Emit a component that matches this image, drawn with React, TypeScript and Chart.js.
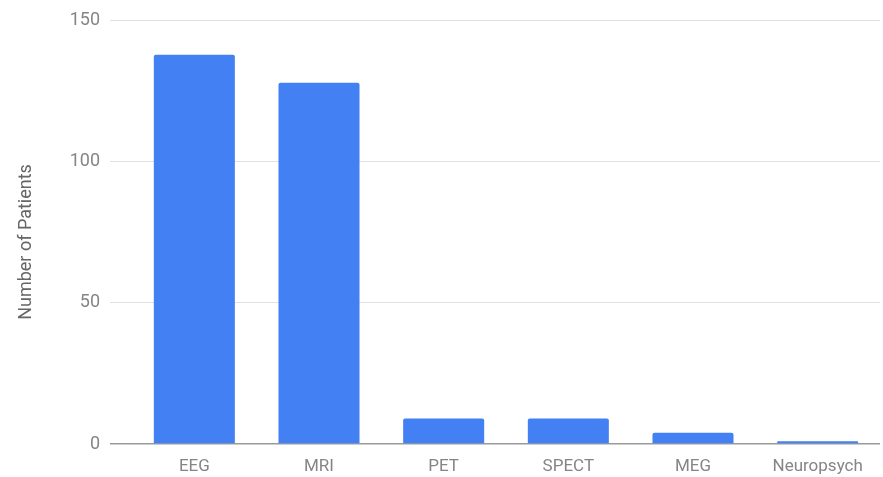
import React, { useEffect, useRef } from "react";
import { Chart, registerables } from "chart.js";

Chart.register(...registerables);

const categories = ["EEG", "MRI", "PET", "SPECT", "MEG", "Neuropsych"];
const patients = [138, 128, 9, 9, 4, 1];
const yTicks = [0, 50, 100, 150];
const yTitle = "Number of Patients";

const yTitlePlugin = {
  id: "yTitlePlugin",
  afterDraw(chart: any) {
    const ctx = chart.ctx;
    ctx.save();
    ctx.translate(26, 242);
    ctx.rotate(-Math.PI / 2);
    ctx.fillStyle = "#666666";
    ctx.font = "18px Roboto";
    ctx.textAlign = "center";
    ctx.textBaseline = "middle";
    ctx.fillText(yTitle, 0, 0);
    ctx.restore();
  },
};

export default function App() {
  const ref = useRef<HTMLCanvasElement | null>(null);

  useEffect(() => {
    if (!ref.current) return;
    const chart = new Chart(ref.current, {
      type: "bar",
      data: {
        labels: categories,
        datasets: [
          {
            data: patients,
            backgroundColor: "#4280f4",
            borderRadius: 2,
            borderSkipped: "bottom",
            categoryPercentage: 1,
            barPercentage: 0.65,
          },
        ],
      },
      plugins: [yTitlePlugin],
      options: {
        animation: false,
        responsive: false,
        maintainAspectRatio: false,
        layout: { padding: { top: 19, right: 3, bottom: 0, left: 0 } },
        plugins: { legend: { display: false }, tooltip: { enabled: false } },
        scales: {
          x: {
            grid: { display: false, drawTicks: false },
            border: { display: false },
            afterFit: (scale: any) => {
              scale.height = 33;
            },
            ticks: {
              color: "#858585",
              font: { family: "Roboto", size: 17 },
              padding: 13,
              maxRotation: 0,
            },
          },
          y: {
            min: 0,
            max: 150,
            afterBuildTicks: (scale: any) => {
              scale.ticks = yTicks.map((v) => ({ value: v }));
            },
            afterFit: (scale: any) => {
              scale.width = 132;
            },
            border: { display: false },
            grid: {
              color: (ctx: any) => (ctx.tick && ctx.tick.value === 0 ? "#9a9a9a" : "#e0e0e0"),
              lineWidth: (ctx: any) => (ctx.tick && ctx.tick.value === 0 ? 1.5 : 1),
              tickLength: 22,
              drawTicks: true,
            },
            ticks: {
              color: "#858585",
              font: { family: "Roboto", size: 18 },
              padding: 10,
            },
            title: { display: false },
          },
        },
      },
    });
    return () => chart.destroy();
  }, []);

  return (
    <div style={{ position: "fixed", left: 0, top: 0, width: 883, height: 477, background: "#fff" }}>
      <canvas ref={ref} width={883} height={477} style={{ display: "block" }} />
    </div>
  );
}
